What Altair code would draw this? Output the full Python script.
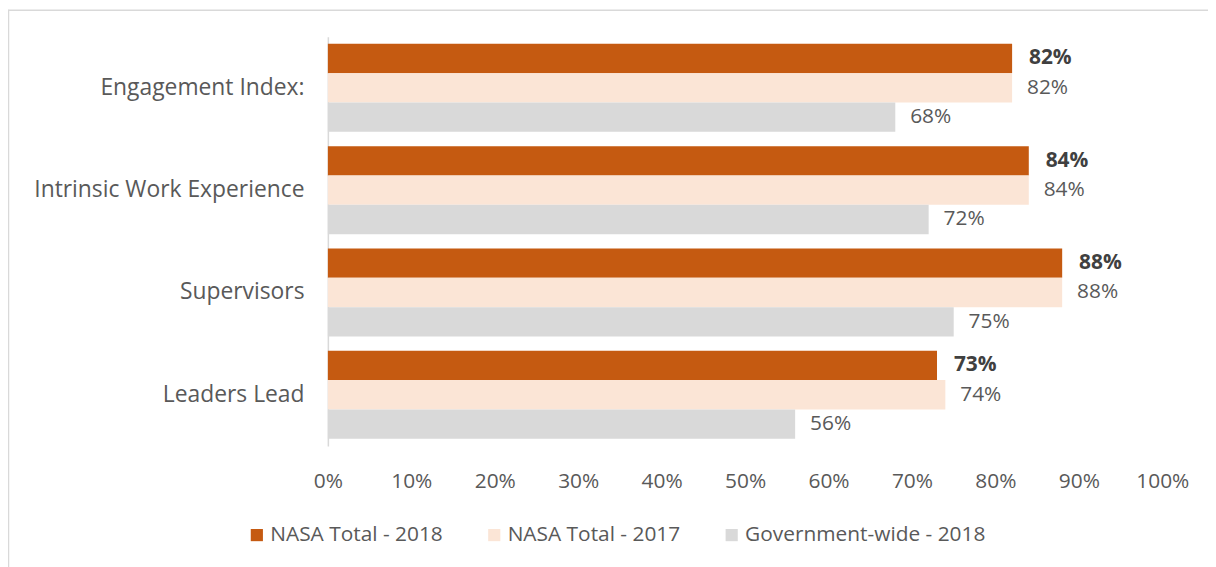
import altair as alt
import pandas as pd

categories = ["Engagement Index:", "Intrinsic Work Experience", "Supervisors", "Leaders Lead"]
series = ["NASA Total - 2018", "NASA Total - 2017", "Government-wide - 2018"]
nasa_2018 = [82, 84, 88, 73]
nasa_2017 = [82, 84, 88, 74]
gov_2018 = [68, 72, 75, 56]
colors = ["#C55A11", "#FBE5D6", "#D9D9D9"]
x_ticks = [0, 10, 20, 30, 40, 50, 60, 70, 80, 90, 100]

rows = []
for i, c in enumerate(categories):
    for s, vals in zip(series, [nasa_2018, nasa_2017, gov_2018]):
        rows.append({"category": c, "series": s, "value": vals[i],
                     "label": f"{vals[i]}%", "bold": s == series[0]})
df = pd.DataFrame(rows)

FONT = "Open Sans"
W, H = 840, 412
FS = 21

base = alt.Chart(df).encode(
    y=alt.Y("category:N", sort=categories,
            scale=alt.Scale(paddingInner=0.14, paddingOuter=0.07),
            axis=alt.Axis(title=None, ticks=False, labelFontSize=23, labelColor="#595959",
                          labelFont=FONT, labelPadding=24, domainColor="#D9D9D9",
                          domainWidth=1.5, labelLimit=400)),
    yOffset=alt.YOffset("series:N", sort=series, scale=alt.Scale(paddingInner=0, paddingOuter=0)),
)

bars = base.mark_bar().encode(
    x=alt.X("value:Q", scale=alt.Scale(domain=[0, 100]),
            axis=alt.Axis(title=None, values=x_ticks, labelExpr="datum.value + '%'",
                          grid=False, ticks=False, domain=False, labelFontSize=FS,
                          labelFlush=False, labelColor="#595959", labelFont=FONT,
                          labelPadding=25)),
    color=alt.Color("series:N", sort=series,
                    scale=alt.Scale(domain=series, range=colors),
                    legend=alt.Legend(title=None, orient="none", direction="horizontal",
                                      legendX=-82, legendY=491, symbolType="square",
                                      symbolSize=150, symbolStrokeWidth=0,
                                      labelFontSize=FS, labelColor="#595959", labelFont=FONT,
                                      labelLimit=400, columnPadding=41, symbolOffset=0,
                                      labelOffset=3)),
)

text_bold = base.transform_filter("datum.bold").mark_text(
    align="left", baseline="middle", dx=17, fontSize=FS, fontWeight="bold",
    color="#404040", font=FONT).encode(x="value:Q", text="label:N")

text_norm = base.transform_filter("!datum.bold").mark_text(
    align="left", baseline="middle", dx=15, fontSize=FS,
    color="#595959", font=FONT).encode(x="value:Q", text="label:N")

frame_df = pd.DataFrame({"a": [0]})
frame_left = alt.Chart(frame_df).mark_rule(color="#D9D9D9", strokeWidth=1.5).encode(
    x=alt.value(-321.5), y=alt.value(-27), y2=alt.value(H + 200))
frame_top = alt.Chart(frame_df).mark_rule(color="#D9D9D9", strokeWidth=1.5).encode(
    y=alt.value(-26.5), x=alt.value(-322), x2=alt.value(W + 100))

chart = alt.layer(frame_left, frame_top, bars, text_bold, text_norm).properties(
    width=W, height=H,
    background="white",
    autosize=alt.AutoSizeParams(type="none"),
    padding={"left": 322, "top": 27, "right": 46, "bottom": 120},
).configure_view(strokeWidth=0, stroke="transparent")

chart.save("out.html", embed_options={"renderer": "svg", "actions": False})
